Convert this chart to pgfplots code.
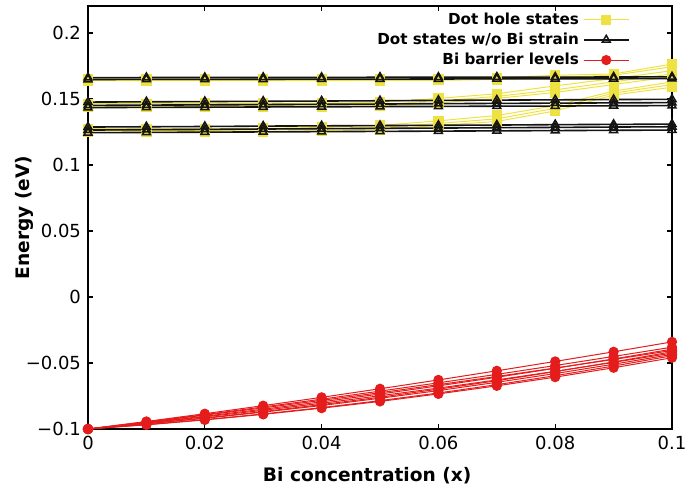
\documentclass[border=0pt]{standalone}
\usepackage{pgfplots}
\usepackage{pgfplotstable}
\pgfplotsset{compat=1.18}
\usepackage{fontspec}
\setmainfont{DejaVu Sans}
\definecolor{dotyellow}{RGB}{238,226,66}
\definecolor{bired}{RGB}{228,28,28}
\definecolor{dotblack}{RGB}{20,20,20}

\pgfplotstableread{
x     y1     y2     y3     y4     y5     y6     y7     y8
0.00  0.1652 0.1640 0.1465 0.1450 0.1440 0.1275 0.1262 0.1250
0.01  0.1652 0.1640 0.1465 0.1450 0.1440 0.1275 0.1262 0.1250
0.02  0.1652 0.1640 0.1466 0.1451 0.1441 0.1276 0.1263 0.1251
0.03  0.1652 0.1640 0.1467 0.1452 0.1442 0.1278 0.1265 0.1253
0.04  0.1652 0.1640 0.1469 0.1454 0.1444 0.1285 0.1272 0.1260
0.05  0.1653 0.1641 0.1475 0.1460 0.1450 0.1300 0.1285 0.1270
0.06  0.1654 0.1642 0.1505 0.1485 0.1470 0.1335 0.1315 0.1300
0.07  0.1660 0.1648 0.1540 0.1520 0.1505 0.1375 0.1350 0.1330
0.08  0.1680 0.1665 0.1600 0.1570 0.1550 0.1450 0.1430 0.1410
0.09  0.1690 0.1680 0.1655 0.1630 0.1610 0.1560 0.1545 0.1530
0.10  0.1765 0.1745 0.1715 0.1690 0.1670 0.1630 0.1610 0.1590
}\yellowdata

\pgfplotstableread{
x     k1     k2     k3     k4     k5     k6     k7     k8
0.00  0.1662 0.1648 0.1477 0.1452 0.1435 0.1288 0.1265 0.1245
0.01  0.1663 0.1649 0.1479 0.1454 0.1437 0.1290 0.1268 0.1247
0.02  0.1663 0.1649 0.1481 0.1456 0.1438 0.1292 0.1270 0.1249
0.03  0.1664 0.1650 0.1483 0.1458 0.1440 0.1295 0.1273 0.1251
0.04  0.1664 0.1651 0.1485 0.1460 0.1441 0.1297 0.1275 0.1253
0.05  0.1665 0.1651 0.1487 0.1462 0.1443 0.1299 0.1278 0.1255
0.06  0.1665 0.1652 0.1490 0.1465 0.1444 0.1301 0.1280 0.1257
0.07  0.1666 0.1653 0.1492 0.1467 0.1446 0.1303 0.1283 0.1259
0.08  0.1666 0.1653 0.1494 0.1469 0.1447 0.1306 0.1285 0.1261
0.09  0.1667 0.1654 0.1496 0.1471 0.1449 0.1308 0.1288 0.1263
0.10  0.1668 0.1655 0.1498 0.1473 0.1450 0.1310 0.1290 0.1265
}\blackdata

\pgfplotstableread{
x     r1      r2      r3      r4      r5      r6      r7      r8      r9
0.00  -0.1000 -0.1000 -0.1000 -0.1000 -0.1000 -0.1000 -0.1000 -0.1000 -0.1000
0.01  -0.0943 -0.0946 -0.0953 -0.0949 -0.0960 -0.0955 -0.0961 -0.0967 -0.0968
0.02  -0.0884 -0.0891 -0.0903 -0.0895 -0.0916 -0.0908 -0.0919 -0.0929 -0.0931
0.03  -0.0823 -0.0833 -0.0850 -0.0840 -0.0868 -0.0858 -0.0872 -0.0886 -0.0889
0.04  -0.0760 -0.0774 -0.0794 -0.0783 -0.0815 -0.0805 -0.0822 -0.0838 -0.0842
0.05  -0.0695 -0.0713 -0.0735 -0.0725 -0.0759 -0.0748 -0.0767 -0.0785 -0.0791
0.06  -0.0628 -0.0650 -0.0673 -0.0664 -0.0698 -0.0690 -0.0709 -0.0727 -0.0734
0.07  -0.0559 -0.0586 -0.0608 -0.0602 -0.0634 -0.0628 -0.0646 -0.0664 -0.0673
0.08  -0.0488 -0.0519 -0.0540 -0.0538 -0.0565 -0.0563 -0.0580 -0.0596 -0.0607
0.09  -0.0415 -0.0450 -0.0469 -0.0473 -0.0492 -0.0495 -0.0509 -0.0523 -0.0536
0.10  -0.0340 -0.0380 -0.0395 -0.0405 -0.0415 -0.0425 -0.0435 -0.0445 -0.0460
}\reddata

\tikzset{
  ystyle/.style={color=dotyellow, line width=0.5pt, mark=square*, mark size=2.3pt, mark options={solid}},
  kstyle/.style={color=dotblack, line width=0.8pt, mark=triangle, mark size=2.3pt, mark options={solid, line width=0.75pt}},
  rstyle/.style={color=bired, line width=0.5pt, mark=*, mark size=2.3pt, mark options={solid}},
}

\begin{document}
\begin{tikzpicture}
\begin{axis}[
  scale only axis, width=292pt, height=211.5pt,
  xmin=0, xmax=0.1, ymin=-0.1, ymax=0.2205,
  xtick={0,0.02,0.04,0.06,0.08,0.1},
  xticklabels={0,0.02,0.04,0.06,0.08,0.1},
  ytick={-0.1,-0.05,0,0.05,0.1,0.15,0.2},
  yticklabels={−0.1,−0.05,0,0.05,0.1,0.15,0.2},
  tick align=inside, tick pos=both, major tick length=2.5pt,
  tick style={line width=0.6pt, black},
  ticklabel style={font=\fontsize{9}{10}\selectfont},
  axis line style={line width=0.75pt},
  xlabel={Bi concentration (x)}, ylabel={Energy (eV)},
  label style={font=\bfseries\fontsize{9.3}{11}\selectfont},
  xlabel style={at={(axis description cs:0.478,-0.111)}, anchor=center},
  ylabel style={at={(axis description cs:-0.108,0.5)}, anchor=center},
  clip=false,
  legend style={draw=none, fill=none, at={(0.928,0.995)}, anchor=north east,
    font=\bfseries\fontsize{7.6}{9}\selectfont, row sep=-1.2pt, inner sep=0pt},
  legend cell align=right, legend plot pos=right,
  legend image code/.code={\draw[mark repeat=2,mark phase=2] plot coordinates {(0pt,0pt) (11.25pt,0pt) (22.5pt,0pt)};},
]
\addplot[ystyle] table[x=x,y=y1] {\yellowdata};
\addlegendentry{Dot hole states}
\addplot[ystyle, forget plot] table[x=x,y=y2] {\yellowdata};
\addplot[ystyle, forget plot] table[x=x,y=y3] {\yellowdata};
\addplot[ystyle, forget plot] table[x=x,y=y4] {\yellowdata};
\addplot[ystyle, forget plot] table[x=x,y=y5] {\yellowdata};
\addplot[ystyle, forget plot] table[x=x,y=y6] {\yellowdata};
\addplot[ystyle, forget plot] table[x=x,y=y7] {\yellowdata};
\addplot[ystyle, forget plot] table[x=x,y=y8] {\yellowdata};

\addplot[kstyle] table[x=x,y=k1] {\blackdata};
\addlegendentry{Dot states w/o Bi strain}
\addplot[kstyle, forget plot] table[x=x,y=k2] {\blackdata};
\addplot[kstyle, forget plot] table[x=x,y=k3] {\blackdata};
\addplot[kstyle, forget plot] table[x=x,y=k4] {\blackdata};
\addplot[kstyle, forget plot] table[x=x,y=k5] {\blackdata};
\addplot[kstyle, forget plot] table[x=x,y=k6] {\blackdata};
\addplot[kstyle, forget plot] table[x=x,y=k7] {\blackdata};
\addplot[kstyle, forget plot] table[x=x,y=k8] {\blackdata};

\addplot[rstyle] table[x=x,y=r1] {\reddata};
\addlegendentry{Bi barrier levels}
\addplot[rstyle, forget plot] table[x=x,y=r2] {\reddata};
\addplot[rstyle, forget plot] table[x=x,y=r3] {\reddata};
\addplot[rstyle, forget plot] table[x=x,y=r4] {\reddata};
\addplot[rstyle, forget plot] table[x=x,y=r5] {\reddata};
\addplot[rstyle, forget plot] table[x=x,y=r6] {\reddata};
\addplot[rstyle, forget plot] table[x=x,y=r7] {\reddata};
\addplot[rstyle, forget plot] table[x=x,y=r8] {\reddata};
\addplot[rstyle, forget plot] table[x=x,y=r9] {\reddata};
\end{axis}
\pgfresetboundingbox
\path (-44pt,-30pt) rectangle (300.5pt,214.5pt);
\end{tikzpicture}
\end{document}
